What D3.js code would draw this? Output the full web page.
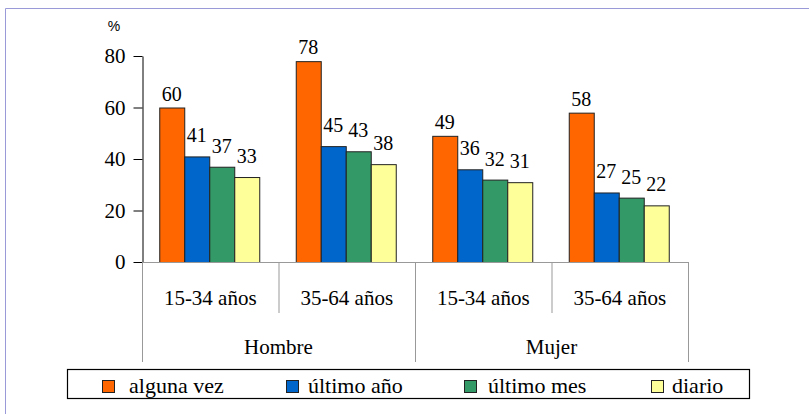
<!DOCTYPE html>
<html>
<head>
<meta charset="utf-8">
<script src="https://cdn.jsdelivr.net/npm/d3@7/dist/d3.min.js"></script>
</head>
<body style="margin:0">
<svg id="fig" width="809" height="414"></svg>
<script>
// Consumption by sex and age group (%)
const sexes = ["Hombre", "Mujer"];
const ageGroups = ["15-34 años", "35-64 años"];
const seriesNames = ["alguna vez", "último año", "último mes", "diario"];
const algunaVez = [60, 78, 49, 58];
const ultimoAnio = [41, 45, 36, 27];
const ultimoMes = [37, 43, 32, 25];
const diario = [33, 38, 31, 22];
const yTicks = [0, 20, 40, 60, 80];
const seriesColors = ["#FF6600", "#0066CC", "#339966", "#FFFF99"];

const seriesValues = [algunaVez, ultimoAnio, ultimoMes, diario];
const categories = [];
sexes.forEach(s => ageGroups.forEach(a => categories.push({ sex: s, age: a, key: s + "|" + a })));

const SERIF = '"Liberation Serif"';
const SANS = '"Liberation Sans"';
const font = (sel, fam, size) => sel.style("font-family", fam, "important").style("font-size", size + "px", "important");

const svg = d3.select("#fig");

// page frame lines (top and left)
svg.append("line").attr("x1", 5.5).attr("x2", 809).attr("y1", 8.5).attr("y2", 8.5)
  .attr("stroke", "#9A9AD8").attr("stroke-width", 1);
svg.append("line").attr("x1", 5.5).attr("x2", 5.5).attr("y1", 8.5).attr("y2", 414)
  .attr("stroke", "#9A9AD8").attr("stroke-width", 1);

const plotLeft = 142, plotRight = 688, plotTop = 56, plotBase = 262;

const x0 = d3.scaleBand().domain(categories.map(c => c.key)).range([plotLeft, plotRight]).padding(0);
const x1 = d3.scaleBand().domain(seriesNames).range([0, x0.bandwidth()]).paddingInner(0).paddingOuter(0.73);
const y = d3.scaleLinear().domain([0, 80]).range([plotBase, plotTop]);

// y axis
const yAxis = d3.axisLeft(y).tickValues(yTicks).tickSize(9).tickPadding(8).tickSizeOuter(0);
const yg = svg.append("g").attr("transform", `translate(${plotLeft + 0.5},0)`).call(yAxis);
yg.attr("font-family", SERIF).attr("font-size", 21);
yg.select(".domain").attr("stroke", "#000");
yg.selectAll(".tick line").attr("stroke", "#000");
font(yg.selectAll(".tick text"), SERIF, 21).attr("fill", "#000");

font(svg.append("text").attr("x", 114).attr("y", 31).attr("text-anchor", "middle"), SANS, 14).text("%");

// bars with value labels
const groupsSel = svg.append("g").selectAll("g").data(categories).join("g")
  .attr("transform", c => `translate(${x0(c.key) - 1},0)`);

groupsSel.each(function(c, ci) {
  const g = d3.select(this);
  seriesNames.forEach((s, si) => {
    const v = seriesValues[si][ci];
    g.append("rect")
      .attr("x", x1(s) + 0.5).attr("y", y(v) + 0.5)
      .attr("width", x1.bandwidth()).attr("height", plotBase - y(v))
      .attr("fill", seriesColors[si]).attr("stroke", "#222").attr("stroke-width", 1);
    font(g.append("text")
      .attr("x", x1(s) + x1.bandwidth() / 2)
      .attr("y", y(v) - (si === 0 ? 7 : 14))
      .attr("text-anchor", "middle"), SERIF, 20)
      .attr("fill", "#000")
      .text(v);
  });
});

// category axis with grouping separators
const catColor = "#999";
svg.append("line").attr("x1", plotLeft).attr("x2", plotRight + 0.5).attr("y1", plotBase + 0.5).attr("y2", plotBase + 0.5)
  .attr("stroke", catColor);
categories.forEach((c, i) => {
  const xs = x0(c.key);
  const long = i % ageGroups.length === 0;
  svg.append("line").attr("x1", xs + 0.5).attr("x2", xs + 0.5)
    .attr("y1", plotBase).attr("y2", long ? 362 : 313).attr("stroke", catColor);
  font(svg.append("text").attr("x", xs + x0.bandwidth() / 2).attr("y", 305)
    .attr("text-anchor", "middle"), SERIF, 21).text(c.age);
});
svg.append("line").attr("x1", plotRight + 0.5).attr("x2", plotRight + 0.5)
  .attr("y1", plotBase).attr("y2", 362).attr("stroke", catColor);

sexes.forEach(s => {
  const keys = categories.filter(c => c.sex === s).map(c => c.key);
  const xa = x0(keys[0]);
  const xb = x0(keys[keys.length - 1]) + x0.bandwidth();
  font(svg.append("text").attr("x", (xa + xb) / 2).attr("y", 354)
    .attr("text-anchor", "middle"), SERIF, 21).text(s);
});

// legend
const legend = svg.append("g");
legend.append("rect").attr("x", 67.5).attr("y", 369.5).attr("width", 682).attr("height", 29)
  .attr("fill", "#fff").attr("stroke", "#000").attr("stroke-width", 1.2);
const legendSquareX = [102, 286, 464, 651];
const legendTextX = [129, 308, 488, 672];
seriesNames.forEach((s, i) => {
  legend.append("rect").attr("x", legendSquareX[i] + 0.5).attr("y", 380.5).attr("width", 12).attr("height", 12)
    .attr("fill", seriesColors[i]).attr("stroke", "#222");
  font(legend.append("text").attr("x", legendTextX[i]).attr("y", 393), SERIF, 22).text(s);
});
</script>
</body>
</html>
